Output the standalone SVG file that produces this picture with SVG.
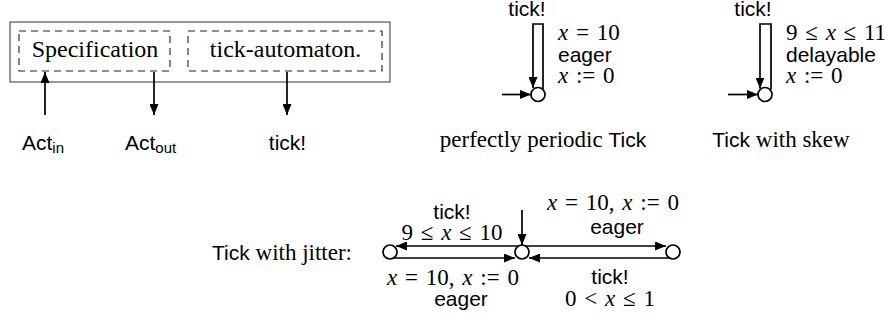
<svg xmlns="http://www.w3.org/2000/svg" width="895" height="323" viewBox="0 0 895 323">
<style>
.serif{font-family:"Liberation Serif","Times New Roman",serif;font-size:23px;fill:#000}
.sans{font-family:"Liberation Sans",Arial,sans-serif;font-size:21px;fill:#000}
.it{font-style:italic}
.sub{font-size:15px}
.line{fill:none;stroke:#000;stroke-width:1.7}
.state{fill:#fff;stroke:#000;stroke-width:1.7}
.dash{fill:none;stroke:#222;stroke-width:1.1;stroke-dasharray:7,5}
</style>
<defs>
<marker id="ah" markerUnits="userSpaceOnUse" markerWidth="12" markerHeight="9" refX="11" refY="4.5" orient="auto">
<path d="M0,0 L11,4.5 L0,9 z" fill="#000"/>
</marker>
</defs>

<g id="system">
<rect x="10" y="22" width="380" height="60" fill="none" stroke="#444" stroke-width="1.1"/>
<g id="spec">
<rect class="dash" x="19" y="31" width="151" height="40"/>
<text class="serif" x="95" y="57" text-anchor="middle" style="font-size:24px">Specification</text>
</g>
<g id="tickaut">
<rect class="dash" x="188" y="31" width="194" height="40"/>
<text class="serif" x="285.5" y="57" text-anchor="middle" style="font-size:24px">tick-automaton.</text>
</g>
</g>

<g id="io-labels">
<text class="sans" x="22" y="150">Act<tspan class="sub" dy="3">in</tspan></text>
<text class="sans" x="125" y="150">Act<tspan class="sub" dy="3">out</tspan></text>
<text class="sans" x="287.5" y="150" text-anchor="middle">tick!</text>
</g>

<g id="periodic">
<circle class="state" cx="538" cy="94.5" r="7"/>
<text class="sans" x="527" y="16" text-anchor="middle">tick!</text>
<text class="serif" x="558" y="40" word-spacing="2"><tspan class="it">x</tspan> = 10</text>
<text class="sans" x="558" y="62">eager</text>
<text class="serif" x="558" y="83" word-spacing="2"><tspan class="it">x</tspan> := 0</text>
<text class="serif" x="543" y="147" text-anchor="middle">perfectly periodic <tspan class="sans">Tick</tspan></text>
</g>

<g id="skew">
<circle class="state" cx="765" cy="94.5" r="7"/>
<text class="sans" x="753" y="16" text-anchor="middle">tick!</text>
<text class="serif" x="786" y="40" word-spacing="2">9 ≤ <tspan class="it">x</tspan> ≤ 11</text>
<text class="sans" x="786" y="62">delayable</text>
<text class="serif" x="786" y="83" word-spacing="2"><tspan class="it">x</tspan> := 0</text>
<text class="serif" x="781" y="147" text-anchor="middle"><tspan class="sans">Tick</tspan> with skew</text>
</g>

<g id="jitter">
<text class="serif" x="352" y="260" text-anchor="end"><tspan class="sans">Tick</tspan> with jitter:</text>
<g id="j-left"><circle class="state" cx="390" cy="252" r="7"/></g>
<g id="j-mid"><circle class="state" cx="522" cy="252" r="7"/></g>
<g id="j-right"><circle class="state" cx="673" cy="252" r="7"/></g>
<text class="sans" x="452" y="219" text-anchor="middle">tick!</text>
<text class="serif" x="452" y="240" text-anchor="middle" word-spacing="2">9 ≤ <tspan class="it">x</tspan> ≤ 10</text>
<text class="serif" x="613" y="210" text-anchor="middle" word-spacing="2"><tspan class="it">x</tspan> = 10, <tspan class="it">x</tspan> := 0</text>
<text class="sans" x="617" y="234" text-anchor="middle">eager</text>
<text class="serif" x="453" y="285" text-anchor="middle" word-spacing="2"><tspan class="it">x</tspan> = 10, <tspan class="it">x</tspan> := 0</text>
<text class="sans" x="461" y="306" text-anchor="middle">eager</text>
<text class="sans" x="610" y="284" text-anchor="middle">tick!</text>
<text class="serif" x="610" y="306" text-anchor="middle" word-spacing="2">0 &lt; <tspan class="it">x</tspan> ≤ 1</text>
</g>

<g id="connectors">
<path class="line" d="M45,115 V72" marker-end="url(#ah)"/>
<path class="line" d="M154,72 V115" marker-end="url(#ah)"/>
<path class="line" d="M287,72 V115" marker-end="url(#ah)"/>
<path class="line" d="M543,89.6 V24 H533 V88" marker-end="url(#ah)"/>
<path class="line" d="M502,94.5 H531" marker-end="url(#ah)"/>
<path class="line" d="M771,89.6 V24 H760 V88.5" marker-end="url(#ah)"/>
<path class="line" d="M728,94.5 H758" marker-end="url(#ah)"/>
<path class="line" d="M518.4,246 H396" marker-end="url(#ah)"/>
<path class="line" d="M393.6,258 H515" marker-end="url(#ah)"/>
<path class="line" d="M525.6,246 H666" marker-end="url(#ah)"/>
<path class="line" d="M669.4,258 H529" marker-end="url(#ah)"/>
<path class="line" d="M522,210 V245" marker-end="url(#ah)"/>
</g>
</svg>
